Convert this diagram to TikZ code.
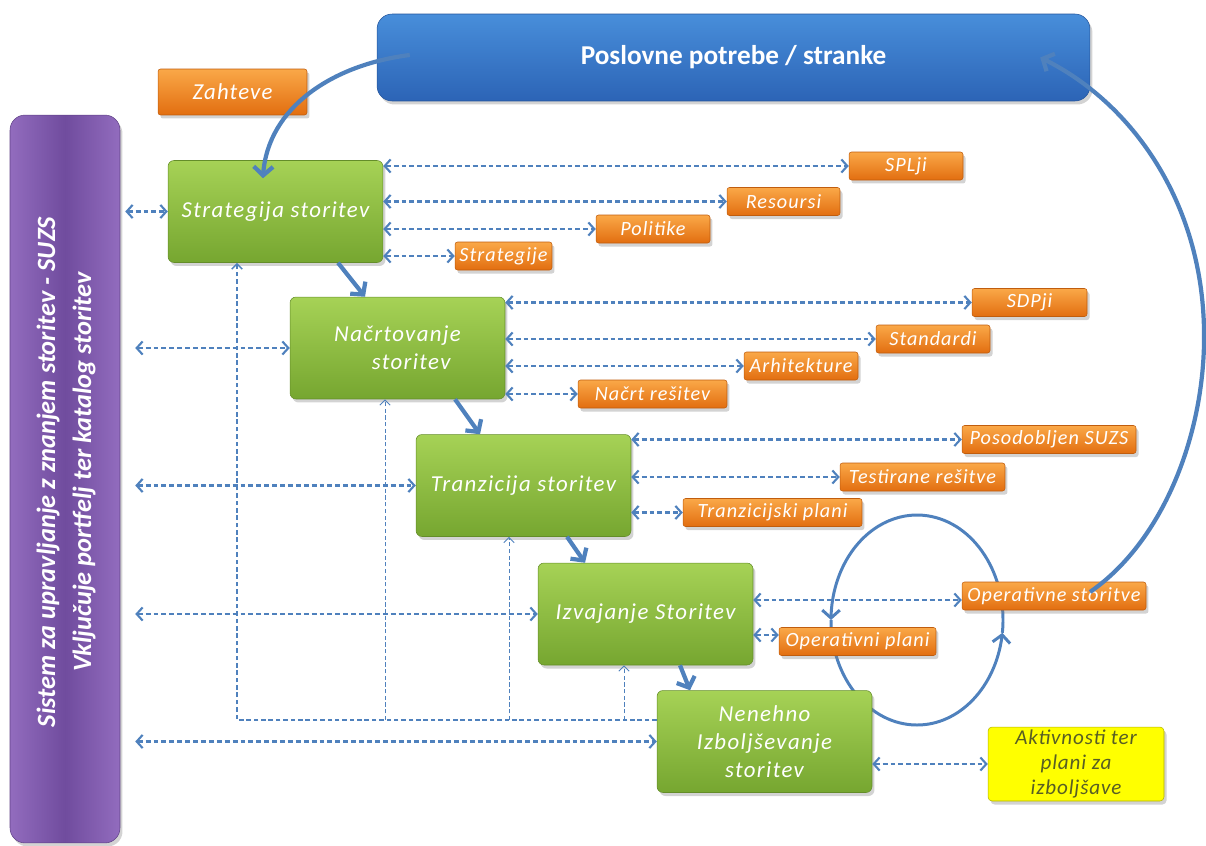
\documentclass[tikz,border=0pt]{standalone}
\usepackage{fontspec}
\setmainfont{Carlito}
\usetikzlibrary{arrows.meta,shadows,bending}
\definecolor{linkblue}{RGB}{79,129,189}
\definecolor{greentop}{RGB}{166,210,86}
\definecolor{greenbot}{RGB}{118,166,48}
\definecolor{orangetop}{RGB}{250,168,72}
\definecolor{orangebot}{RGB}{226,110,16}
\definecolor{bluetop}{RGB}{72,142,218}
\definecolor{bluebot}{RGB}{44,100,182}
\definecolor{purpleedge}{RGB}{146,108,190}
\definecolor{purplemid}{RGB}{112,76,158}
\definecolor{yellowfill}{RGB}{255,255,0}
\definecolor{olivetext}{RGB}{88,94,36}
\newcommand{\widetext}[1]{\addfontfeatures{LetterSpace=#1}}
\begin{document}
\begin{tikzpicture}[x=0.02cm,y=-0.02cm,
  box/.style={rectangle, inner sep=0pt, text=white,
    drop shadow={opacity=0.35,shadow xshift=0.05cm,shadow yshift=-0.07cm}},
  stage/.style={box, rounded corners=0.12cm, minimum width=4.3cm, minimum height=2.04cm,
    top color=greentop, bottom color=greenbot, draw=greenbot!85!black, line width=0.3pt,
    font=\fontsize{13}{16}\selectfont\itshape\widetext{6}, align=center},
  tag/.style={box, rounded corners=0.05cm, minimum height=0.56cm,
    top color=orangetop, bottom color=orangebot, draw=orangebot!85!black, line width=0.3pt,
    font=\fontsize{11.5}{13}\selectfont\itshape\widetext{5}},
  dd/.style={draw=linkblue, line width=1.2pt, dash pattern=on 2.8pt off 1.7pt,
    >={Straight Barb[length=3.4pt,width=7.5pt]}, <->},
  fbmain/.style={draw=linkblue, line width=0.9pt, dash pattern=on 2.6pt off 1.6pt,
    >={Straight Barb[length=3pt,width=6pt]}, ->},
  fb/.style={draw=linkblue, line width=0.55pt, dash pattern=on 2.4pt off 1.4pt,
    >={Straight Barb[length=3pt,width=6pt]}, ->},
  flow/.style={draw=linkblue, line width=2.4pt,
    >={Straight Barb[length=5pt,width=11pt]}, ->},
  loopline/.style={draw=linkblue, line width=1.7pt,
    >={Straight Barb[length=4.5pt,width=10pt]}, ->},
]
\useasboundingbox (0,0) rectangle (1206,845);

% operating cycle behind the boxes
\coordinate (loop) at (917,620);
\draw[loopline] (loop) ++(367:86 and 105)
  arc[start angle=367, end angle=180, x radius=86, y radius=105];
\draw[loopline] (loop) ++(180:86 and 105)
  arc[start angle=180, end angle=7, x radius=86, y radius=105];

% header and knowledge base
\node[box, rounded corners=0.3cm, minimum width=14.26cm, minimum height=1.74cm,
  top color=bluetop, bottom color=bluebot, draw=bluebot!85!black, line width=0.3pt,
  font=\fontsize{15.5}{18}\selectfont\bfseries] (top) at (733.5,57.5) {Poslovne potrebe / stranke};
\node[box, rounded corners=0.3cm, minimum width=2.2cm, minimum height=14.56cm,
  left color=purpleedge, right color=purpleedge, middle color=purplemid,
  draw=purplemid!85!black, line width=0.3pt] (bar) at (65,479) {};
\node[rotate=90, text=white, align=center, font=\fontsize{15}{20.5}\selectfont\bfseries\itshape]
  (barlbl) at (66,472) {Sistem za upravljanje z znanjem storitev - SUZS\\Vključuje portfelj ter katalog storitev};

\node[tag, minimum width=2.98cm, minimum height=0.92cm, font=\fontsize{13}{15}\selectfont\itshape\widetext{5}] (zahteve) at (232.5,92) {Zahteve};

% lifecycle stages
\node[stage] (s1) at (275.5,211.5) {Strategija storitev};
\node[stage] (s2) at (397.5,348) {Načrtovanje\\\hspace*{1.2em}storitev};
\node[stage] (s3) at (523.5,485.5) {Tranzicija storitev};
\node[stage] (s4) at (645.5,614) {Izvajanje Storitev};
\node[stage] (s5) at (764.5,741.5) {Nenehno\\Izboljševanje\\storitev};

% stage outputs
\node[tag, minimum width=2.28cm] (splji) at (906,166) {SPLji};
\node[tag, minimum width=2.26cm] (resoursi) at (783.5,201.5) {Resoursi};
\node[tag, minimum width=2.28cm] (politike) at (653,229) {Politike};
\node[tag, minimum width=1.94cm] (strategije) at (503.5,256) {Strategije};

\node[tag, minimum width=2.3cm] (sdpji) at (1029.5,302.5) {SDPji};
\node[tag, minimum width=2.28cm] (standardi) at (933,339) {Standardi};
\node[tag, minimum width=2.28cm] (arhitekture) at (801,366) {Arhitekture};
\node[tag, minimum width=2.98cm] (nacrt) at (652.5,394) {Načrt rešitev};

\node[tag, minimum width=3.48cm] (posodobljen) at (1049,439.5) {Posodobljen SUZS};
\node[tag, minimum width=3.3cm] (testirane) at (922.5,477) {Testirane rešitve};
\node[tag, minimum width=3.58cm] (tranzplani) at (772.5,512.5) {Tranzicijski plani};

\node[tag, minimum width=3.68cm] (opstor) at (1054,596) {Operativne storitve};
\node[tag, minimum width=3.14cm] (opplani) at (857.5,641.5) {Operativni plani};

\node[box, rounded corners=0.08cm, minimum width=3.52cm, minimum height=1.48cm,
  fill=yellowfill, draw=yellowfill!70!black, line width=0.3pt, text=olivetext, align=center,
  font=\fontsize{12}{14}\selectfont\itshape\widetext{4}] (aktiv) at (1076,764) {Aktivnosti ter\\plani za\\izboljšave};

% links to the knowledge base
\coordinate (lane1) at ([xshift=0.1cm]bar.east);
\coordinate (lane) at ([xshift=0.3cm]bar.east);
\draw[dd] (lane1 |- s1.west) -- (s1.west);
\draw[dd] (lane |- s2.west) -- (s2.west);
\draw[dd] (lane |- s3.west) -- (s3.west);
\draw[dd] (lane |- s4.west) -- (s4.west);
\draw[dd] (lane |- s5.west) -- (s5.west);

% links to the outputs
\foreach \t in {splji,resoursi,politike,strategije}
  \draw[dd] (s1.east |- \t.west) -- (\t.west);
\foreach \t in {sdpji,standardi,arhitekture,nacrt}
  \draw[dd] (s2.east |- \t.west) -- (\t.west);
\foreach \t in {posodobljen,testirane,tranzplani}
  \draw[dd] (s3.east |- \t.west) -- (\t.west);
\draw[dd] ([yshift=-0.08cm]s4.east |- opstor.west) -- ([yshift=-0.08cm]opstor.west);
\draw[dd] ([yshift=0.13cm]s4.east |- opplani.west) -- ([yshift=0.13cm]opplani.west);
\draw[dd] (s5.east |- aktiv.west) -- (aktiv.west);

% feedback from continual improvement
\coordinate (fb1) at (237,720);
\coordinate (fb2) at (385,720);
\coordinate (fb3) at (509,720);
\coordinate (fb4) at (624,720);
\draw[fbmain] (s5.west |- fb1) -- (fb1) -- (fb1 |- s1.south);
\draw[fb] (fb2) -- (fb2 |- s2.south);
\draw[fb] (fb3) -- (fb3 |- s3.south);
\draw[fb] (fb4) -- (fb4 |- s4.south);

% stage sequence
\draw[flow] ([xshift=1.25cm]s1.south) -- ([xshift=-0.65cm]s2.north);
\draw[flow] ([xshift=1.15cm]s2.south) -- ([xshift=-0.87cm]s3.north);
\draw[flow] ([xshift=0.87cm]s3.south) -- ([xshift=-1.21cm]s4.north);
\draw[flow] ([xshift=0.69cm]s4.south) -- ([xshift=-1.49cm]s5.north);

% demand and delivery
\draw[flow] ([xshift=0.66cm,yshift=0.05cm]top.west)
  .. controls (330,65) and (265,110) .. ([xshift=-0.25cm,yshift=-0.36cm]s1.north);
\draw[flow] ([xshift=0.72cm,yshift=0.08cm]opstor.center)
  .. controls (1165,540) and (1206,430) .. (1204,330)
  .. controls (1202,200) and (1130,100) .. ([xshift=-1cm]top.east);
\end{tikzpicture}
\end{document}
